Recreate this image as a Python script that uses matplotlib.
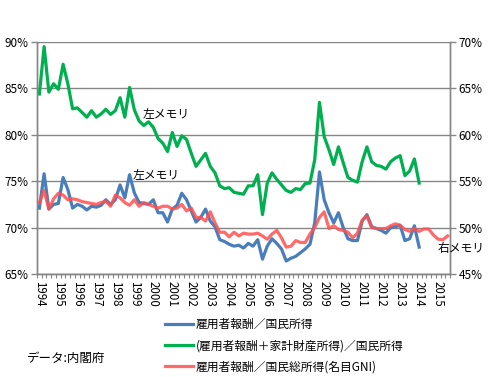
import matplotlib
matplotlib.use("Agg")
import matplotlib.pyplot as plt
import numpy as np

plt.rcParams['font.family'] = ['Noto Sans CJK JP', 'DejaVu Sans']

years = [str(y) for y in range(1994, 2016)]

# quarterly values, 1994Q1 ...
compensation_ratio = [72.1, 75.8, 72.0, 72.5, 72.6, 75.4, 74.1, 72.1, 72.5, 72.3,
                      71.9, 72.3, 72.2, 72.4, 73.0, 72.5, 73.0, 74.6, 73.2, 75.7,
                      73.75, 72.7, 72.6, 72.5, 73.0, 71.6, 71.6, 70.6, 72.0, 72.4,
                      73.7, 73.0, 71.8, 70.6, 71.1, 72.0, 70.7, 70.1, 68.7, 68.5,
                      68.2, 68.0, 68.1, 67.8, 68.3, 68.0, 68.7, 66.6, 68.0, 68.8,
                      68.3, 67.7, 66.4, 66.7, 66.9, 67.3, 67.7, 68.2, 70.5, 76.0,
                      73.0, 71.6, 70.5, 71.6, 70.0, 68.8, 68.6, 68.6, 70.7, 71.4,
                      70.1, 69.9, 69.7, 69.4, 70.0, 70.1, 70.25, 68.6, 68.8, 70.2,
                      67.9]

comp_property_ratio = [84.4, 89.5, 84.6, 85.5, 84.9, 87.6, 85.5, 82.8, 82.9, 82.4,
                       81.9, 82.6, 81.9, 82.25, 82.75, 82.2, 82.6, 84.0, 81.9, 85.1,
                       82.7, 81.5, 81.0, 81.4, 80.8, 79.6, 79.1, 78.2, 80.25, 78.75,
                       79.9, 79.5, 78.0, 76.6, 77.3, 78.0, 76.6, 75.9, 74.5, 74.2,
                       74.3, 73.8, 73.7, 73.6, 74.5, 74.5, 75.7, 71.4, 74.8, 75.9,
                       75.2, 74.6, 74.0, 73.8, 74.2, 74.1, 74.75, 74.8, 77.3, 83.5,
                       79.8, 78.4, 76.8, 78.7, 77.0, 75.4, 75.1, 74.9, 77.1, 78.7,
                       77.1, 76.7, 76.6, 76.3, 77.1, 77.5, 77.75, 75.6, 76.1, 77.4,
                       74.8]

# right axis
comp_gni_ratio = [52.7, 54.0, 52.0, 53.1, 53.7, 53.5, 53.0, 53.1, 53.0, 52.8,
                  52.7, 52.6, 52.5, 52.7, 52.85, 52.3, 53.5, 53.2, 52.7, 52.4,
                  53.0, 52.3, 52.7, 52.5, 52.3, 52.1, 52.3, 52.3, 52.0, 52.1,
                  52.5, 51.8, 52.1, 51.1, 51.1, 50.7, 51.7, 50.5, 49.5, 49.5,
                  49.0, 49.5, 49.1, 49.4, 49.3, 49.3, 49.4, 49.1, 48.75, 49.3,
                  49.7, 48.9, 47.9, 48.0, 48.6, 48.4, 48.4, 49.3, 50.0, 51.1,
                  51.7, 49.9, 50.2, 49.8, 49.7, 49.5, 48.9, 49.4, 50.8, 51.25,
                  50.0, 49.9, 49.9, 49.9, 50.2, 50.4, 50.25, 49.8, 49.6, 49.9,
                  49.6, 49.85, 49.85, 49.2, 48.75, 48.7, 49.1]

labels = ['雇用者報酬／国民所得',
          '(雇用者報酬＋家計財産所得)／国民所得',
          '雇用者報酬／国民総所得(名目GNI)']

BLUE = '#4a7ebb'
GREEN = '#00b050'
RED = '#ff5050'
GRID = '#868686'

fig = plt.figure(figsize=(5.0, 3.77), dpi=100)
ax = fig.add_axes([0.074, 0.2732, 0.826, 0.6154])
ax2 = ax.twinx()

n_cat = len(comp_gni_ratio)
x_a = np.arange(len(compensation_ratio))
x_b = np.arange(len(comp_property_ratio))
x_c = np.arange(n_cat)

l1, = ax.plot(x_a, compensation_ratio, color=BLUE, lw=2.3, solid_joinstyle='round', zorder=3)
l2, = ax.plot(x_b, comp_property_ratio, color=GREEN, lw=2.3, solid_joinstyle='round', zorder=3)
l3, = ax2.plot(x_c, comp_gni_ratio, color=RED, lw=2.3, alpha=0.85, solid_joinstyle='round', zorder=3)

ax.set_xlim(-0.5, n_cat - 0.5)
ax.set_ylim(65, 90)
ax2.set_ylim(45, 70)

ax.set_yticks(np.arange(65, 91, 5))
ax.set_yticklabels([f'{v}%' for v in range(65, 91, 5)])
ax2.set_yticks(np.arange(45, 71, 5))
ax2.set_yticklabels([f'{v}%' for v in range(45, 71, 5)])

ax.yaxis.grid(True, color=GRID, lw=1.0)
ax.set_axisbelow(True)

ax.set_xticks(np.arange(0, n_cat, 4))
ax.set_xticklabels(years[:len(np.arange(0, n_cat, 4))], rotation=270)
ax.set_xticks(np.arange(-0.5, n_cat, 1), minor=True)
ax.tick_params(axis='x', which='major', length=0, pad=5, labelsize=8.3)
ax.tick_params(axis='x', which='minor', length=3, color=GRID, width=0.8)
ax.tick_params(axis='y', length=4, color=GRID, width=1, labelsize=8.5, pad=2)
ax2.tick_params(axis='y', length=4, color=GRID, width=1, labelsize=8.5, pad=2)

for a in (ax, ax2):
    a.spines['top'].set_visible(False)
    for s in ('left', 'right', 'bottom'):
        a.spines[s].set_color(GRID)
        a.spines[s].set_linewidth(1.0)

ax.text(21.8, 82.2, '左メモリ', fontsize=8.5, ha='left', va='center', zorder=5)
ax.text(19.7, 75.6, '左メモリ', fontsize=8.5, ha='left', va='center', zorder=5)
ax2.text(83.8, 47.8, '右メモリ', fontsize=8.5, ha='left', va='center', zorder=5, clip_on=False)

fig.legend([l1, l2, l3], labels, loc='upper left', bbox_to_anchor=(0.33, 0.157),
           frameon=False, fontsize=8.5, handlelength=2.4, handletextpad=0.2,
           labelspacing=0.7, borderaxespad=0, borderpad=0)
fig.text(0.054, 0.05, 'データ:内閣府', fontsize=9, ha='left', va='center')

fig.savefig('out.png', dpi=100)
